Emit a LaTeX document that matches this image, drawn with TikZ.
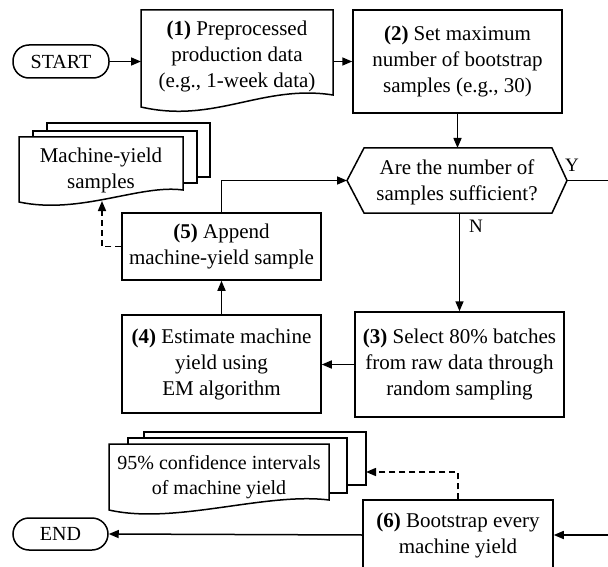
\documentclass[tikz,border=0pt]{standalone}
\usepackage{fontspec}
\setmainfont{Liberation Serif}
\usetikzlibrary{arrows.meta}
\newcommand\dgfont{\fontsize{21}{26}\selectfont}
\newcommand\dgsmall{\fontsize{20}{24.5}\selectfont}
\begin{document}
\begin{tikzpicture}[x=1pt,y=-1pt,
  lw/.style={line width=1.5pt},
  box/.style={draw,lw,rectangle,inner sep=0pt,align=center,font=\dgfont},
  pill/.style={draw,lw,rectangle,rounded corners=16pt,inner sep=0pt,align=center,font=\dgsmall},
  txt/.style={inner sep=0pt,align=center,font=\dgfont},
  shp/.style={lw,fill=white},
  arr/.style={lw,-{Triangle[length=10pt,width=8pt]}},
  darr/.style={arr,dash pattern=on 6pt off 4pt},
  lbl/.style={inner sep=0pt,font=\fontsize{19}{22}\selectfont}]
\useasboundingbox (0,0) rectangle (608,567);
\clip (0,0) rectangle (608,567);

% terminals
\node[pill,minimum width=96pt,minimum height=33pt] (start) at (61,61.5) {START};
\node[pill,minimum width=95pt,minimum height=32pt] (end) at (60.5,534) {END};

% (1) document
\draw[shp] (141,10) -- (333,10) -- (333,95) .. controls (262,84) and (215,124) .. (141,107) -- cycle;
\node[txt] (d1) at (237,56) {\textbf{(1)} Preprocessed\\production data\\(e.g., 1-week data)};
\coordinate (d1w) at (141,61.5);
\coordinate (d1e) at (333,61.5);

% (2)
\node[box,minimum width=209pt,minimum height=103pt] (b2) at (457.5,61.5) {\textbf{(2)} Set maximum\\number of bootstrap\\samples (e.g., 30)};

% decision hexagon
\draw[lw] (347,180.5) -- (364,148) -- (552,148) -- (567,180.5) -- (552,213) -- (364,213) -- cycle;
\node[txt] (hq) at (457,182) {Are the number of\\samples sufficient?};
\coordinate (hn) at (457.5,148);
\coordinate (hs) at (459.5,213);
\coordinate (hw) at (347,180.5);
\coordinate (he) at (567,180.5);
\node[lbl] (ylab) at (572,165) {Y};
\node[lbl] (nlab) at (476,226) {N};

% (3) (4) (5) (6)
\node[box,minimum width=209pt,minimum height=105pt] (b3) at (459.5,364.5) {\textbf{(3)} Select 80\% batches\\from raw data through\\random sampling};
\node[box,minimum width=199pt,minimum height=98pt] (b4) at (221.5,364) {\textbf{(4)} Estimate machine\\yield using\\EM algorithm};
\node[box,minimum width=199pt,minimum height=67pt] (b5) at (221.5,246.5) {\textbf{(5)} Append\\machine-yield sample};
\node[box,minimum width=190pt,minimum height=70pt] (b6) at (458,535) {\textbf{(6)} Bootstrap every\\machine yield};

% multi-document: machine-yield samples
\draw[shp] (47,123) rectangle (210,177);
\draw[shp] (33,131) rectangle (197,183);
\draw[shp] (19,137) -- (183,137) -- (183,190) .. controls (140,184) and (80,215) .. (19,202) -- cycle;
\node[txt] (md1) at (101,170) {Machine-yield\\samples};
\coordinate (md1b) at (102,201);

% multi-document: confidence intervals
\draw[shp] (144,432) rectangle (366,485);
\draw[shp] (128,438) rectangle (347,493);
\draw[shp] (109,444) -- (329,444) -- (329,500) .. controls (265,492) and (175,525) .. (109,510) -- cycle;
\node[txt,font=\dgsmall] (md2) at (219,477) {95\% confidence intervals\\of machine yield};
\coordinate (md2e) at (366,472);

% right-edge corner
\coordinate (rc) at (614,535);

% connectors
\draw[arr] (start.east) -- (d1w);
\draw[arr] (d1e) -- (b2.west);
\draw[arr] (b2.south) -- (hn);
\draw[arr] (hs) -- (hs |- b3.north);
\draw[arr] (b3.west) -- (b3.west -| b4.east);
\draw[arr] (b4.north) -- (b5.south);
\draw[arr] (b5.north) |- (hw);
\draw[arr] (he) -| (rc) |- (b6.east);
\draw[arr] (b6.west) -- (end.east);
\draw[darr] (b5.west) -| (md1b);
\draw[darr] (b6.north) |- (md2e);
\end{tikzpicture}
\end{document}
